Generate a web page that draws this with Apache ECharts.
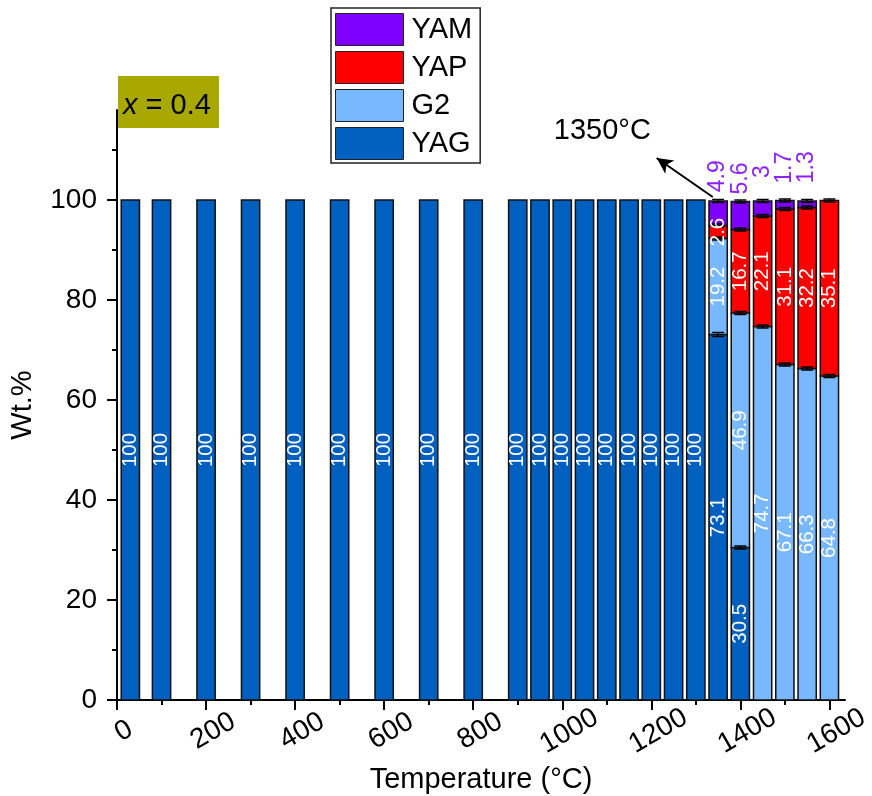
<!DOCTYPE html>
<html><head><meta charset="utf-8">
<script src="https://cdn.jsdelivr.net/npm/echarts@6/dist/echarts.min.js"></script>
<style>html,body{margin:0;padding:0;background:#fff}#c{width:872px;height:796px}</style>
</head><body><div id="c"></div>
<script>
// ---------- data ----------
const temps = [30,100,200,300,400,500,600,700,800,900,950,1000,1050,1100,1150,1200,1250,1300,1350,1400,1450,1500,1550,1600];
const yag = [100,100,100,100,100,100,100,100,100,100,100,100,100,100,100,100,100,100,73.1,30.5,0,0,0,0];
const g2  = [0,0,0,0,0,0,0,0,0,0,0,0,0,0,0,0,0,0,19.2,46.9,74.7,67.1,66.3,64.8];
const yap = [0,0,0,0,0,0,0,0,0,0,0,0,0,0,0,0,0,0,2.6,16.7,22.1,31.1,32.2,35.1];
const yam = [0,0,0,0,0,0,0,0,0,0,0,0,0,0,0,0,0,0,4.9,5.6,3,1.7,1.3,0];
const yagErr = [0,0,0,0,0,0,0,0,0,0,0,0,0,0,0,0,0,0,0.4,0.3,0,0,0,0];
const g2Err  = [0,0,0,0,0,0,0,0,0,0,0,0,0,0,0,0,0,0,0.3,0.3,0.3,0.3,0.3,0.3];
const yapErr = [0,0,0,0,0,0,0,0,0,0,0,0,0,0,0,0,0,0,0.3,0.3,0.3,0.3,0.3,0.3];
const yamErr = [0,0,0,0,0,0,0,0,0,0,0,0,0,0,0,0,0,0,0.3,0.3,0.3,0.3,0.3,0];
const phaseNames = ['YAG','G2','YAP','YAM'];
const legendOrder = ['YAM','YAP','G2','YAG'];
const xMajorTicks = [0,200,400,600,800,1000,1200,1400,1600];
const xMinorTicks = [100,300,500,700,900,1100,1300,1500];
const yMajorTicks = [0,20,40,60,80,100];
const yMinorTicks = [10,30,50,70,90,110];
const annotText = '1350°C';
const annotTextPos = [1090, 113.9];
const arrowFrom = [1338, 100.6];
const arrowTo = [1212, 108.4];

// ---------- styling ----------
const FONT = '"Liberation Sans", Arial, Helvetica, sans-serif';
const colors = {YAG:'#0060C0', G2:'#78B8FF', YAP:'#FF0000', YAM:'#8000FF'};
const BAR_W = 41; // in temperature units

const cum = (arrs) => temps.map((_, i) => arrs.reduce((s, a) => s + a[i], 0));
const bases = {
  YAG: temps.map(() => 0),
  G2: cum([yag]),
  YAP: cum([yag, g2]),
  YAM: cum([yag, g2, yap])
};
const vals = {YAG: yag, G2: g2, YAP: yap, YAM: yam};
const errs = {YAG: yagErr, G2: g2Err, YAP: yapErr, YAM: yamErr};

function makeRender(name) {
  const isTop = name === 'YAM';
  return function (params, api) {
    const x = api.value(0), v = api.value(1), b = api.value(2), e = api.value(3);
    if (!v) return null;
    const p0 = api.coord([x, b]);
    const p1 = api.coord([x, b + v]);
    const w = api.size([BAR_W, 0])[0];
    const children = [{
      type: 'rect',
      shape: {x: p0[0] - w / 2, y: p1[1], width: w, height: p0[1] - p1[1]},
      style: {fill: colors[name], stroke: '#111', lineWidth: 1.5}
    }];
    if (e > 0) {
      const ea = api.coord([x, b + v + e]);
      const eb = api.coord([x, b + v - e]);
      const cw = 6;
      children.push({type:'line', z2: 50, shape:{x1:p0[0], y1:ea[1], x2:p0[0], y2:eb[1]}, style:{stroke:'#000', lineWidth:1.2}});
      children.push({type:'line', z2: 50, shape:{x1:p0[0]-cw, y1:ea[1], x2:p0[0]+cw, y2:ea[1]}, style:{stroke:'#000', lineWidth:1.5}});
      children.push({type:'line', z2: 50, shape:{x1:p0[0]-cw, y1:eb[1], x2:p0[0]+cw, y2:eb[1]}, style:{stroke:'#000', lineWidth:1.5}});
    }
    const cy = (p0[1] + p1[1]) / 2 + (isTop ? -37 : 0);
    children.push({
      type: 'text', z2: 100,
      x: p0[0], y: cy, rotation: Math.PI / 2,
      style: {
        text: String(v),
        fill: isTop ? '#8B22FF' : '#FFFFFF',
        fontSize: isTop ? 23 : 20.5,
        fontFamily: FONT,
        align: 'center', verticalAlign: 'middle'
      }
    });
    return {type: 'group', children};
  };
}

const series = phaseNames.map(name => {
  const s = {
    name, type: 'custom',
    renderItem: makeRender(name),
    itemStyle: {color: colors[name]},
    encode: {x: 0, y: 1},
    data: temps.map((t, i) => [t, vals[name][i], bases[name][i], errs[name][i]])
  };
  if (name === 'YAM') {
    s.markLine = {
      silent: true, animation: false,
      symbol: ['none', 'arrow'], symbolSize: [12, 16],
      lineStyle: {color: '#000', width: 2, type: 'solid'},
      label: {show: false},
      data: [[{coord: arrowFrom}, {coord: arrowTo}]]
    };
    s.markPoint = {
      silent: true, animation: false,
      symbol: 'circle', symbolSize: 0,
      label: {show: true, position: 'inside', formatter: annotText, fontSize: 29, fontFamily: FONT, color: '#000'},
      data: [{coord: annotTextPos}]
    };
  }
  return s;
});

const axisCommon = {
  axisLine: {show: true, onZero: false, lineStyle: {color: '#000', width: 2}},
  splitLine: {show: false}
};

const option = {
  animation: false,
  backgroundColor: '#fff',
  textStyle: {fontFamily: FONT},
  grid: {left: 117, right: 27, top: 110, bottom: 96, containLabel: false, outerBoundsMode: 'none'},
  legend: {
    data: legendOrder, orient: 'vertical', left: 331, top: 8,
    padding: [5, 8, 3, 4], itemGap: 5, itemWidth: 68, itemHeight: 32,
    icon: 'rect', borderColor: '#222', borderWidth: 1.5,
    itemStyle: {borderColor: '#222', borderWidth: 1},
    textStyle: {fontSize: 29, fontFamily: FONT, color: '#000', padding: [0, 0, 0, 3]}
  },
  xAxis: [
    Object.assign({}, axisCommon, {
      type: 'value', min: 0, max: 1635, position: 'bottom',
      name: 'Temperature (°C)', nameLocation: 'middle', nameGap: 53,
      nameTextStyle: {fontSize: 29, fontFamily: FONT, color: '#000'},
      axisTick: {show: true, inside: false, length: 10, lineStyle: {color: '#000', width: 2}, customValues: xMajorTicks},
      axisLabel: {show: true, customValues: xMajorTicks, rotate: 30, align: 'center', verticalAlign: 'top', margin: 19,
                  fontSize: 28, fontFamily: FONT, color: '#000', formatter: v => String(v)}
    }),
    {
      type: 'value', min: 0, max: 1635, position: 'bottom', offset: 0,
      axisLine: {show: false}, splitLine: {show: false}, axisLabel: {show: false},
      axisTick: {show: true, length: 5, lineStyle: {color: '#000', width: 2}, customValues: xMinorTicks}
    }
  ],
  yAxis: [
    Object.assign({}, axisCommon, {
      type: 'value', min: 0, max: 118, position: 'left',
      name: 'Wt.%', nameLocation: 'middle', nameGap: 80, nameRotate: 90,
      nameTextStyle: {fontSize: 29, fontFamily: FONT, color: '#000'},
      axisTick: {show: true, length: 10, lineStyle: {color: '#000', width: 2}, customValues: yMajorTicks},
      axisLabel: {show: true, customValues: yMajorTicks, margin: 20, fontSize: 28, fontFamily: FONT, color: '#000', formatter: v => String(v)}
    }),
    {
      type: 'value', min: 0, max: 118, position: 'left', offset: 0,
      axisLine: {show: false}, splitLine: {show: false}, axisLabel: {show: false},
      axisTick: {show: true, length: 5, lineStyle: {color: '#000', width: 2}, customValues: yMinorTicks}
    }
  ],
  graphic: [{
    type: 'group',
    children: [
      {type: 'rect', shape: {x: 118, y: 76, width: 101, height: 52}, style: {fill: '#A8A800'}},
      {type: 'text', x: 123, y: 106, style: {
        text: '{i|x} = 0.4',
        rich: {i: {fontStyle: 'italic', fontSize: 29, fontFamily: FONT, fill: '#000'}},
        fontSize: 29, fontFamily: FONT, fill: '#000', verticalAlign: 'middle'
      }}
    ]
  }],
  series
};

const chart = echarts.init(document.getElementById('c'), null, {renderer: 'canvas'});
chart.setOption(option);
</script>
</body></html>
